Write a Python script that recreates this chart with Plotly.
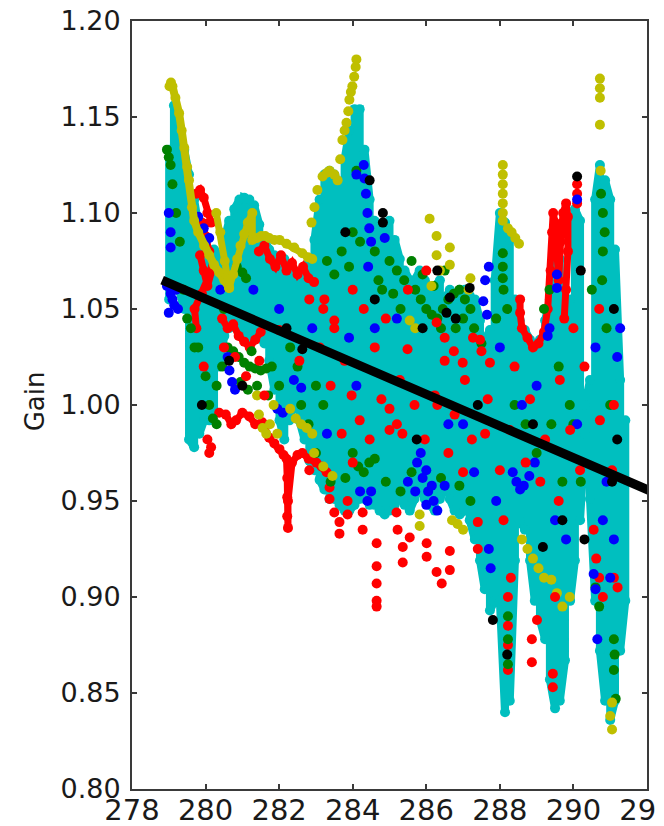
import plotly.graph_objects as go

# ---------------- data ----------------
x_ticks = [278, 280, 282, 284, 286, 288, 290, 292]
y_ticks = [0.80, 0.85, 0.90, 0.95, 1.00, 1.05, 1.10, 1.15, 1.20]

# cyan channel: position, upper and lower value of each sweep
cyan_x = [279.01, 279.14, 279.28, 279.42, 279.55, 279.69, 279.83, 279.96, 280.10, 280.23,
          280.37, 280.51, 280.64, 280.78, 280.92, 281.05, 281.19, 281.32, 281.46, 281.60,
          281.73, 281.87, 282.01, 282.14, 282.28, 282.41, 282.55, 282.69, 282.82, 282.96,
          283.10, 283.23, 283.37, 283.50, 283.64, 283.78, 283.91, 284.05, 284.19, 284.32,
          284.46, 284.59, 284.73, 284.87, 285.00, 285.14, 285.28, 285.41, 285.55, 285.68,
          285.82, 285.96, 286.09, 286.23, 286.37, 286.50, 286.64, 286.77, 286.91, 287.05,
          287.18, 287.32, 287.46, 287.59, 287.73, 287.86, 288.00, 288.14, 288.27, 288.41,
          288.54, 288.68, 288.82, 288.95, 289.09, 289.23, 289.36, 289.50, 289.63, 289.77,
          289.91, 290.04, 290.18, 290.32, 290.45, 290.59, 290.72, 290.86, 291.00, 291.13,
          291.27, 291.41]
cyan_top = [1.133, 1.156, 1.146, 1.133, 1.120, 1.107, 1.091, 1.081, 1.078, 1.081,
            1.078, 1.086, 1.096, 1.102, 1.107, 1.108, 1.107, 1.104, 1.094, 1.086,
            1.081, 1.078, 1.076, 1.076, 1.070, 1.070, 1.068, 1.070, 1.076, 1.086,
            1.107, 1.120, 1.122, 1.120, 1.115, 1.128, 1.143, 1.154, 1.154, 1.133,
            1.107, 1.096, 1.094, 1.091, 1.096, 1.086, 1.076, 1.070, 1.065, 1.065,
            1.070, 1.065, 1.060, 1.062, 1.065, 1.055, 1.060, 1.055, 1.060, 1.060,
            1.057, 1.055, 1.044, 1.034, 1.039, 1.065, 1.100, 1.095, 1.086, 1.055,
            1.044, 1.039, 1.034, 1.031, 1.034, 1.044, 1.055, 1.081, 1.076, 1.044,
            1.055, 1.102, 1.096, 1.000, 1.013, 1.107, 1.125, 1.117, 1.107, 1.081,
            1.013, 0.992]
cyan_bot = [1.055, 1.065, 1.060, 1.050, 0.982, 0.978, 0.985, 0.992, 0.992, 0.997,
            1.020, 1.036, 1.040, 1.042, 1.040, 1.036, 1.032, 1.034, 1.036, 1.032,
            1.023, 1.008, 0.992, 0.982, 0.992, 1.003, 0.992, 0.982, 0.971, 0.966,
            0.961, 0.956, 0.951, 0.951, 0.948, 0.945, 0.945, 0.948, 0.951, 0.951,
            0.948, 0.948, 0.945, 0.943, 0.945, 0.948, 0.951, 0.948, 0.945, 0.951,
            0.956, 0.951, 0.948, 0.945, 0.951, 0.956, 0.951, 0.945, 0.943, 0.945,
            0.940, 0.930, 0.919, 0.904, 0.893, 0.898, 0.898, 0.840, 0.846, 0.919,
            0.940, 0.935, 0.919, 0.898, 0.888, 0.878, 0.857, 0.842, 0.846, 0.867,
            0.898, 0.919, 0.940, 0.985, 0.951, 0.898, 0.872, 0.846, 0.836, 0.846,
            0.872, 0.898]

# yellow channel
yellow_strip = [(279.02, 1.166), (279.06, 1.168), (279.10, 1.166), (279.18, 1.160), (279.28, 1.152),
                (279.35, 1.143), (279.42, 1.134), (279.50, 1.124), (279.55, 1.117), (279.63, 1.103),
                (279.69, 1.096), (279.80, 1.090), (279.96, 1.083), (280.10, 1.078), (280.23, 1.073),
                (280.37, 1.069), (280.51, 1.065), (280.64, 1.061)]
yellow_wave = [(280.29, 1.100), (280.40, 1.090), (280.52, 1.075), (280.64, 1.061), (280.75, 1.068),
               (280.86, 1.076), (280.95, 1.083), (281.05, 1.089), (281.15, 1.095), (281.27, 1.100),
               (281.27, 1.086), (281.40, 1.087), (281.51, 1.088), (281.62, 1.088), (281.73, 1.087),
               (281.87, 1.086), (282.01, 1.086), (282.20, 1.084), (282.41, 1.082), (282.63, 1.079),
               (282.78, 1.077), (282.90, 1.076)]
yellow_climb = [(282.88, 1.095), (282.96, 1.103), (283.04, 1.112), (283.18, 1.119), (283.30, 1.121),
                (283.37, 1.122), (283.50, 1.120), (283.59, 1.117), (283.66, 1.128), (283.72, 1.138),
                (283.78, 1.143), (283.83, 1.147), (283.88, 1.153), (283.91, 1.159), (283.95, 1.163),
                (283.99, 1.166), (284.04, 1.171), (284.08, 1.176), (284.10, 1.180)]
yellow_dots = [(286.09, 1.097), (286.28, 1.088), (286.28, 1.078), (286.64, 1.082), (286.64, 1.073),
               (286.37, 1.070), (286.14, 1.062), (288.08, 1.125), (288.08, 1.120), (288.08, 1.115),
               (288.08, 1.110), (288.08, 1.105), (288.08, 1.100), (288.08, 1.096), (288.22, 1.092),
               (288.32, 1.090), (288.42, 1.087), (288.52, 1.084), (290.72, 1.170), (290.72, 1.165),
               (290.72, 1.160), (290.72, 1.146), (290.74, 1.122), (287.20, 1.066), (287.15, 1.060),
               (285.55, 1.044), (285.70, 1.040), (285.82, 0.943), (285.82, 0.937), (286.70, 0.940),
               (286.85, 0.938), (287.00, 0.935), (288.60, 0.930), (288.75, 0.925), (288.90, 0.920),
               (289.05, 0.915), (289.20, 0.910), (289.40, 0.909), (289.55, 0.902), (289.70, 0.895),
               (289.90, 0.900), (291.05, 0.831), (291.00, 0.838), (291.05, 0.845), (281.40, 1.005),
               (281.45, 0.995), (281.55, 0.988), (281.65, 0.985), (281.75, 0.990), (281.85, 1.000),
               (281.95, 0.985), (282.30, 0.998), (282.45, 0.993), (282.60, 0.990), (282.75, 0.988),
               (282.90, 0.985), (282.95, 0.975), (283.20, 0.968), (283.45, 0.963)]

# red channel
red_blob = [(279.75, 1.110), (279.85, 1.112), (279.95, 1.108), (280.05, 1.100), (280.15, 1.095),
            (279.90, 1.095), (280.00, 1.088), (280.10, 1.080), (279.85, 1.078), (279.95, 1.070),
            (280.05, 1.062), (280.20, 1.072), (279.90, 1.058), (279.70, 1.050), (279.75, 1.040)]
red_mid = [(280.45, 1.045), (280.60, 1.040), (280.75, 1.042), (280.90, 1.036), (281.05, 1.033),
           (281.20, 1.030), (281.35, 1.034), (281.50, 1.038)]
red_upper = [(281.45, 1.080), (281.60, 1.083), (281.75, 1.076), (281.90, 1.072), (282.05, 1.078),
             (282.20, 1.070), (282.35, 1.074), (282.50, 1.068), (282.65, 1.072), (282.80, 1.066),
             (282.95, 1.064)]
red_wave = [(280.37, 0.996), (280.55, 0.995), (280.70, 0.990), (280.83, 0.992), (281.00, 0.996),
            (281.19, 0.994), (281.35, 0.990), (281.54, 0.991), (281.73, 0.983), (281.87, 0.980),
            (282.01, 0.977), (282.12, 0.974), (282.20, 0.972), (282.22, 0.962), (282.22, 0.952),
            (282.22, 0.942), (282.24, 0.936), (282.24, 0.950), (282.35, 0.970), (282.50, 0.974),
            (282.63, 0.975), (282.80, 0.972), (283.01, 0.970), (283.15, 0.968), (283.29, 0.965)]
red_right = [(288.55, 1.055), (288.55, 1.048), (288.60, 1.040), (288.75, 1.035), (288.90, 1.030),
             (289.05, 1.032), (289.20, 1.038), (289.30, 1.050), (289.38, 1.070), (289.42, 1.090),
             (289.45, 1.100), (289.50, 1.095), (289.55, 1.080), (289.60, 1.065), (289.65, 1.085),
             (289.72, 1.100), (289.80, 1.105), (289.85, 1.098), (289.85, 1.080), (289.80, 1.060),
             (289.75, 1.045)]
red_dots = [(280.05, 0.982), (280.15, 0.978), (280.10, 0.975), (282.82, 0.966), (283.37, 0.957),
            (283.37, 0.951), (283.50, 0.944), (283.64, 0.939), (283.64, 0.933), (283.86, 0.950),
            (283.86, 0.943), (284.27, 0.944), (284.27, 0.935), (284.65, 0.928), (284.65, 0.916),
            (284.65, 0.907), (284.65, 0.898), (284.65, 0.895), (285.19, 0.944), (285.22, 0.935),
            (285.36, 0.926), (285.36, 0.918), (285.55, 0.931), (286.01, 0.928), (286.01, 0.921),
            (286.28, 0.913), (286.42, 0.907), (286.64, 0.914), (286.64, 0.924), (287.40, 0.939),
            (287.40, 0.925), (289.01, 0.888), (288.87, 0.878), (288.87, 0.866), (289.44, 0.860),
            (289.44, 0.853), (288.22, 0.900), (288.22, 0.885), (288.22, 0.875), (288.22, 0.862),
            (290.55, 0.935), (290.62, 0.920), (290.70, 0.910), (290.80, 0.900), (291.10, 0.910),
            (291.20, 0.905), (290.10, 1.115), (290.10, 1.110), (290.10, 1.105)]
red_inband = [(283.23, 1.055), (283.50, 1.044), (283.78, 1.023), (283.97, 1.005), (284.19, 0.992),
              (284.46, 0.982), (284.78, 1.003), (285.00, 0.987), (285.28, 1.013), (285.49, 1.029),
              (285.68, 1.000), (285.96, 0.982), (286.23, 1.005), (286.50, 1.023), (286.77, 0.995),
              (287.05, 1.013), (287.24, 0.982), (287.46, 1.034), (287.67, 1.003), (288.00, 0.966),
              (288.27, 0.987), (288.82, 1.003), (289.23, 0.982), (289.63, 1.013), (289.91, 0.987),
              (290.18, 0.966), (290.72, 0.992), (291.05, 0.966), (281.46, 1.023), (282.00, 1.039),
              (282.55, 1.023), (282.82, 1.055), (285.00, 0.998), (285.20, 0.990), (285.35, 0.985),
              (283.20, 1.050), (283.50, 1.040), (286.28, 1.043), (286.50, 1.035), (286.75, 1.028),
              (286.99, 1.022), (287.27, 1.035), (287.50, 1.028), (287.73, 1.022), (284.00, 1.060),
              (284.30, 1.050), (284.60, 1.030), (284.90, 1.045), (285.50, 1.060), (286.00, 1.070),
              (286.30, 1.000), (286.60, 0.975), (287.00, 0.965), (287.60, 0.985), (288.40, 1.020),
              (288.70, 0.970), (289.10, 0.960), (289.60, 0.950), (290.00, 1.040), (290.30, 1.020),
              (290.70, 1.050), (291.10, 1.000), (283.10, 1.030), (283.40, 1.010), (283.70, 0.985),
              (284.00, 0.970), (288.10, 0.940), (288.30, 0.910), (289.50, 0.900), (280.50, 1.030),
              (280.80, 1.025), (281.10, 1.015), (281.60, 1.005), (279.95, 1.020)]

# green channel
green_pts = [(278.95, 1.133), (279.00, 1.129), (279.05, 1.125), (279.10, 1.115), (279.20, 1.100),
             (279.30, 1.085), (279.60, 1.040), (279.70, 1.030), (280.10, 1.000), (280.20, 0.993),
             (280.30, 0.990), (280.60, 1.030), (280.75, 1.028), (280.90, 1.025), (281.05, 1.022),
             (281.20, 1.020), (281.35, 1.019), (281.50, 1.018), (281.65, 1.019), (281.80, 1.020),
             (280.85, 1.072), (281.00, 1.069), (281.10, 1.066), (284.10, 1.122), (288.08, 1.079),
             (288.08, 1.072), (288.08, 1.066), (288.10, 1.060), (290.75, 1.110), (290.80, 1.100),
             (290.85, 1.090), (290.80, 1.080), (290.78, 1.065), (291.10, 0.878), (291.10, 0.862),
             (291.15, 0.847), (291.12, 0.870), (290.60, 0.905), (290.70, 0.895), (285.70, 1.060),
             (285.85, 1.055), (286.00, 1.050), (286.15, 1.047), (286.30, 1.045), (286.45, 1.050),
             (286.60, 1.055), (286.75, 1.058), (286.90, 1.060), (287.05, 1.055), (287.20, 1.050),
             (286.50, 1.070), (284.00, 0.975), (284.15, 0.968), (284.30, 0.965), (284.45, 0.970),
             (284.60, 0.972), (288.22, 0.890), (288.22, 0.878), (288.22, 0.865), (284.80, 1.060),
             (285.00, 1.075), (285.20, 1.070), (285.40, 1.065), (283.00, 1.010), (283.20, 1.000),
             (289.20, 1.050), (289.35, 1.060), (289.60, 1.020), (289.90, 1.000), (290.20, 0.960),
             (280.50, 1.050), (282.30, 1.030), (282.50, 1.020), (283.30, 1.075), (283.50, 1.068),
             (283.70, 1.080), (283.90, 1.072), (284.00, 1.090), (284.20, 1.085), (284.60, 1.080),
             (284.70, 1.065), (285.10, 1.058), (285.30, 1.050), (285.60, 1.075), (285.90, 1.068),
             (286.20, 1.062), (286.40, 1.040), (286.80, 1.040), (287.00, 1.045), (287.30, 1.040),
             (287.50, 1.032), (287.90, 1.045), (288.20, 1.050), (288.40, 1.000), (288.70, 0.990),
             (289.00, 0.975), (289.40, 0.990), (289.70, 0.960), (290.00, 0.990), (290.50, 1.060),
             (290.90, 1.040), (291.00, 1.000), (282.80, 0.990), (283.00, 0.975), (283.40, 0.960),
             (283.80, 0.962), (284.90, 0.960), (285.30, 0.955), (285.60, 0.965), (286.40, 0.962),
             (286.90, 0.958), (287.20, 0.950), (279.40, 1.060), (279.50, 1.045), (279.80, 1.030),
             (280.00, 1.015), (280.30, 1.010), (281.40, 1.010), (281.70, 1.005), (282.00, 1.010),
             (282.60, 1.000), (280.95, 1.012), (281.15, 1.008), (281.25, 1.028), (280.45, 1.020)]

# blue channel
blue_pts = [(278.95, 1.062), (279.05, 1.058), (279.15, 1.052), (279.25, 1.050), (279.10, 1.055),
            (279.00, 1.048), (279.20, 1.060), (279.00, 1.100), (279.05, 1.090), (279.05, 1.082),
            (279.80, 1.098), (279.95, 1.092), (280.10, 1.087), (280.00, 1.085), (280.60, 1.025),
            (280.65, 1.018), (280.72, 1.012), (280.80, 1.008), (281.95, 0.998), (282.10, 0.996),
            (282.40, 1.013), (282.60, 1.009), (284.10, 1.120), (284.30, 1.125), (284.32, 1.118),
            (284.36, 1.110), (284.40, 1.100), (284.45, 1.092), (284.50, 1.085), (284.42, 1.072),
            (284.87, 1.087), (285.75, 0.970), (285.90, 0.962), (286.05, 0.955), (286.20, 0.950),
            (286.00, 0.966), (285.85, 0.975), (286.15, 0.958), (287.55, 1.054), (287.65, 1.047),
            (289.55, 1.068), (289.55, 1.061), (289.35, 1.040), (289.30, 1.036), (290.10, 1.107),
            (288.35, 0.965), (288.45, 0.960), (288.55, 0.956), (288.65, 0.958), (288.80, 0.963),
            (288.95, 0.970), (290.65, 0.878), (290.55, 0.912), (290.60, 0.904), (291.27, 1.040),
            (291.19, 1.025), (287.70, 0.925), (287.75, 0.915), (283.30, 0.985), (284.50, 0.955),
            (286.60, 0.990), (289.00, 1.010), (290.90, 0.960), (291.10, 0.930), (287.90, 0.950),
            (283.90, 1.035), (284.10, 1.010), (284.60, 1.040), (285.20, 1.045), (285.50, 0.960),
            (285.70, 0.955), (286.00, 0.948), (286.30, 0.945), (286.50, 0.958), (284.20, 0.955),
            (284.40, 0.950), (287.00, 0.990), (287.30, 0.965), (288.00, 1.030), (288.60, 1.000),
            (289.50, 0.940), (289.80, 0.930), (290.10, 0.990), (290.60, 1.030), (290.80, 0.940),
            (291.00, 0.910), (280.40, 1.060), (281.30, 1.060), (282.00, 1.050), (282.90, 1.040),
            (287.60, 1.065), (287.70, 1.072)]

# black channel
black_pts = [(284.46, 1.117), (284.82, 1.100), (284.82, 1.095), (287.18, 1.061), (286.64, 1.056),
             (286.55, 1.048), (287.81, 0.888), (290.10, 1.119), (291.19, 0.982), (289.17, 0.926),
             (288.20, 0.870), (285.74, 0.982), (280.64, 1.023), (282.63, 1.029), (291.05, 0.960),
             (290.30, 0.930), (286.30, 1.070), (283.80, 1.090), (284.60, 1.055), (285.90, 1.040),
             (286.80, 1.045), (287.40, 1.000), (288.90, 0.990), (289.70, 0.940), (290.20, 1.070),
             (291.10, 1.050), (282.20, 1.040), (281.00, 1.010), (279.90, 1.000)]

# linear fit
fit_x = [278.82, 292.3]
fit_y = [1.065, 0.9535]

# ---------------- figure ----------------
C_CYAN, C_YEL, C_RED = "#00BFBF", "#BFBF00", "#FF0000"
C_GRN, C_BLU, C_BLK = "#008000", "#0000FF", "#000000"

fig = go.Figure()


def split(p):
    return [a for a, _ in p], [b for _, b in p]


def add(x, y, color, mode="markers", size=10, lw=8):
    fig.add_trace(go.Scatter(
        x=x, y=y, mode=mode, hoverinfo="skip", showlegend=False,
        marker=dict(color=color, size=size, line=dict(width=0)),
        line=dict(color=color, width=lw)))


# cyan sweeps (up and down at each position)
cx, cy = [], []
for i, (x, t, b) in enumerate(zip(cyan_x, cyan_top, cyan_bot)):
    cx += [x, x]
    cy += [t, b] if i % 2 == 0 else [b, t]
add(cx, cy, C_CYAN, mode="lines+markers", size=10, lw=8)

for seg in (red_blob, red_mid, red_upper, red_wave, red_right):
    add(*split(seg), C_RED, mode="lines+markers", lw=7)
add(*split(red_dots), C_RED)
add(*split(green_pts), C_GRN)
add(*split(blue_pts), C_BLU)
add(*split(yellow_strip), C_YEL, mode="lines+markers", lw=8)
add(*split(yellow_wave), C_YEL, mode="lines+markers", lw=7)
add(*split(yellow_climb), C_YEL)
add(*split(yellow_dots), C_YEL)
add(*split(red_inband), C_RED)
add(*split(black_pts), C_BLK)

fig.add_trace(go.Scatter(x=fit_x, y=fit_y, mode="lines", hoverinfo="skip",
                         showlegend=False, line=dict(color="black", width=9)))

axis_common = dict(showgrid=False, zeroline=False, showline=True, linecolor="#3a3a3a",
                   linewidth=2, mirror="ticks", ticks="inside", ticklen=5, tickwidth=1.5,
                   tickcolor="#3a3a3a", automargin=False, ticklabeloverflow="allow")

# the page body adds an 8 px offset, so the figure is 8 px smaller than the window
fig.update_layout(
    width=656, height=818,
    margin=dict(l=124, r=17, t=13, b=37, autoexpand=False),
    plot_bgcolor="white", paper_bgcolor="white",
    font=dict(family="DejaVu Sans", color="#1a1a1a"),
    showlegend=False,
    xaxis=dict(range=[278, 292], tickmode="array", tickvals=x_ticks,
               ticktext=[str(v) for v in x_ticks], tickfont=dict(size=29),
               ticklabelstandoff=-6, **axis_common),
    yaxis=dict(range=[0.80, 1.20], tickmode="array", tickvals=y_ticks,
               ticktext=[f"{v:.2f}" for v in y_ticks], tickfont=dict(size=27),
               ticklabelstandoff=4, **axis_common),
    annotations=[dict(text="Gain", xref="paper", yref="paper", x=-0.188, y=0.505,
                      textangle=-90, showarrow=False, font=dict(size=26, color="#1a1a1a"),
                      xanchor="center", yanchor="middle")],
)

fig.write_html("out.html")
